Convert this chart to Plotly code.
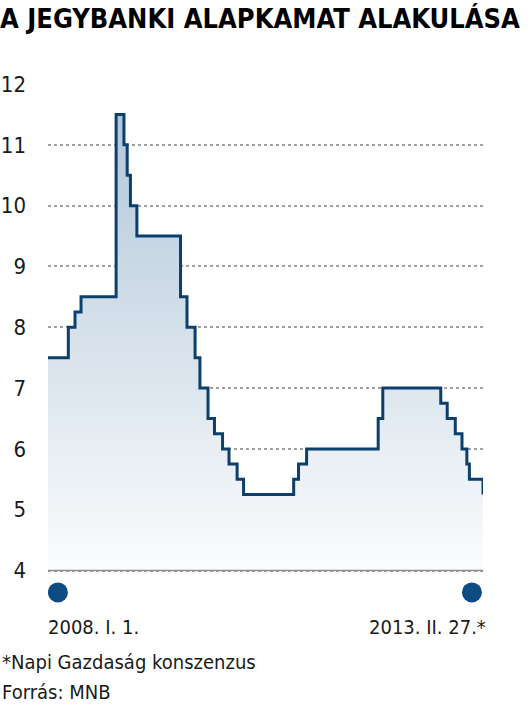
import plotly.graph_objs as go

# Jegybanki alapkamat (%), lépcsős idősor
dates = [
    "2008-01-01", "2008-03-29", "2008-04-27", "2008-05-23", "2008-10-22",
    "2008-11-25", "2008-12-09", "2008-12-23", "2009-01-20", "2009-07-28",
    "2009-08-25", "2009-09-29", "2009-10-20", "2009-11-24", "2009-12-22",
    "2010-01-26", "2010-02-23", "2010-03-30", "2010-04-27", "2010-11-30",
    "2010-12-21", "2011-01-25", "2011-12-01", "2011-12-21", "2012-08-28",
    "2012-09-25", "2012-10-30", "2012-11-28", "2012-12-19", "2012-12-30",
    "2013-02-27",
]
rates = [
    7.5, 8.0, 8.25, 8.5, 11.5,
    11.0, 10.5, 10.0, 9.5, 8.5,
    8.0, 7.5, 7.0, 6.5, 6.25,
    6.0, 5.75, 5.5, 5.25, 5.5,
    5.75, 6.0, 6.5, 7.0, 6.75,
    6.5, 6.25, 6.0, 5.75, 5.5,
    5.25,
]
y_ticks = [4, 5, 6, 7, 8, 9, 10, 11, 12]
base_rate = 4
dot_dates = ["2008-02-13", "2013-01-10"]
dot_level = [3.64, 3.64]
start_label = "2008. I. 1."
end_label = "2013. II. 27.*"

FONT = "DejaVu Sans Condensed, Liberation Sans Narrow, Roboto, sans-serif"
LINE_BLUE = "#0b3f6d"
DOT_BLUE = "#0d4c82"
TEXT = "#1a1a1a"

fig = go.Figure()

# alsó határ a kitöltéshez
fig.add_trace(go.Scatter(
    x=[dates[0], dates[-1]],
    y=[base_rate, base_rate],
    mode="lines",
    line=dict(width=0),
    hoverinfo="skip",
))

fig.add_trace(go.Scatter(
    x=dates,
    y=rates,
    mode="lines",
    line=dict(shape="hv", color=LINE_BLUE, width=3),
    fill="tonexty",
    fillgradient=dict(
        type="vertical",
        start=4,
        stop=11.5,
        colorscale=[[0, "#fbfcfd"], [1, "#b2c7da"]],
    ),
    hoverinfo="skip",
))

# kék pöttyök a tengely alatt
fig.add_trace(go.Scatter(
    x=dot_dates,
    y=dot_level,
    mode="markers",
    marker=dict(size=20, color=DOT_BLUE),
    hoverinfo="skip",
))

fig.update_layout(
    width=531,
    height=704,
    margin=dict(l=48, r=48, t=84, b=100),
    plot_bgcolor="white",
    paper_bgcolor="white",
    showlegend=False,
    font=dict(family=FONT, color=TEXT),
    title=dict(
        text="<b>A JEGYBANKI ALAPKAMAT ALAKULÁSA</b>",
        font=dict(family=FONT, size=27, color="black"),
        xref="container", x=0, xanchor="left",
        yref="container", y=0.973, yanchor="middle",
        pad=dict(t=0, l=0),
    ),
    xaxis=dict(
        range=["2008-01-01", "2013-02-27"],
        showgrid=False,
        showticklabels=False,
        zeroline=False,
        automargin=False,
        fixedrange=True,
    ),
    yaxis=dict(
        range=[3.45, 12],
        tickvals=y_ticks,
        ticktext=[str(v) for v in y_ticks],
        tickfont=dict(family=FONT, size=22, color=TEXT),
        ticklabelstandoff=21,
        showgrid=True,
        gridcolor="#a0a0a0",
        gridwidth=1.5,
        griddash="dot",
        zeroline=False,
        automargin=False,
        fixedrange=True,
    ),
)

# alapvonal 4-nél
fig.add_shape(
    type="line", xref="paper", yref="y",
    x0=0, x1=1, y0=base_rate, y1=base_rate,
    line=dict(color="#8a8a8a", width=1.5),
)

fig.add_annotation(
    text=start_label, xref="paper", yref="paper",
    x=-0.005, y=-0.0442, xanchor="left", yanchor="middle",
    showarrow=False, font=dict(family=FONT, size=20, color=TEXT),
)
fig.add_annotation(
    text=end_label, xref="paper", yref="paper",
    x=1.011, y=-0.0442, xanchor="right", yanchor="middle",
    showarrow=False, font=dict(family=FONT, size=20, color=TEXT),
)
fig.add_annotation(
    text="*Napi Gazdaság konszenzus", xref="paper", yref="paper",
    x=-0.1103, y=-0.1115, xanchor="left", yanchor="middle",
    showarrow=False, font=dict(family=FONT, size=20, color=TEXT),
)
fig.add_annotation(
    text="Forrás: MNB", xref="paper", yref="paper",
    x=-0.1103, y=-0.169, xanchor="left", yanchor="middle",
    showarrow=False, font=dict(family=FONT, size=20, color=TEXT),
)

# a böngésző alapértelmezett 8px-es body margóját kinullázzuk, modebar nélkül
fig.write_html(
    "out.html",
    config={"displayModeBar": False},
    post_script="document.body.style.margin='0';",
)
